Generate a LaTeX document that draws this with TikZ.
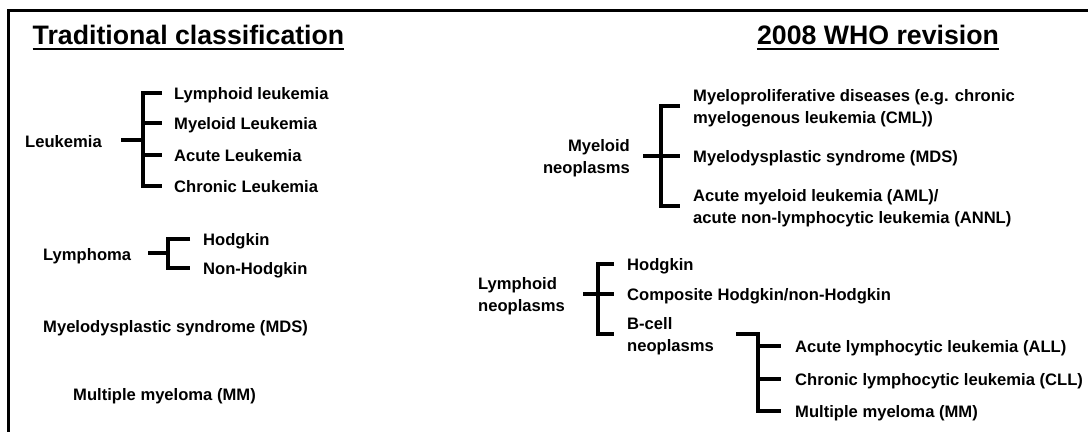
\documentclass[tikz,border=0pt]{standalone}
\usepackage{fontspec}
\setmainfont{Liberation Sans}
\begin{document}
\begin{tikzpicture}[x=1pt,y=-1pt,
  txt/.style={inner sep=0pt, anchor=base west, font=\fontsize{16.6}{22}\selectfont\bfseries},
  ttl/.style={inner sep=0pt, anchor=base, font=\fontsize{26.7}{32}\selectfont\bfseries},
  br/.style={line width=4pt, line join=miter, line cap=butt},
  uline/.style={line width=2.6pt},
  frame/.style={line width=3pt, line join=miter}
]
\useasboundingbox (0,0) rectangle (1088,432);
\draw[frame] (1088,10) -- (8,10) -- (8,432);

% ---------- Traditional classification ----------
\node[ttl] (t1) at (188.5,44) {Traditional classification};
\draw[uline] ([yshift=-5pt]t1.base west) -- ([yshift=-5pt]t1.base east);

\node[txt] (leuk) at (25,147) {Leukemia};
\node[txt] (l1) at (174,99) {Lymphoid leukemia};
\node[txt] (l2) at (174,129) {Myeloid Leukemia};
\node[txt] (l3) at (174,161) {Acute Leukemia};
\node[txt] (l4) at (174,192) {Chronic Leukemia};
\draw[br] (121,140) -- (143,140);
\draw[br] (162,93) -- (143,93) -- (143,186) -- (162,186);
\draw[br] (143,123) -- (162,123);
\draw[br] (143,155) -- (162,155);

\node[txt] (lymph) at (43,260) {Lymphoma};
\node[txt] (h1) at (203,245) {Hodgkin};
\node[txt] (h2) at (203,274) {Non-Hodgkin};
\draw[br] (148,253) -- (168,253);
\draw[br] (190,239) -- (168,239) -- (168,268) -- (190,268);

\node[txt] (mdsl) at (43,332) {Myelodysplastic syndrome (MDS)};
\node[txt] (mml) at (73,400) {Multiple myeloma (MM)};

% ---------- 2008 WHO revision ----------
\node[ttl] (t2) at (878,44) {2008 WHO revision};
\draw[uline] ([yshift=-5pt]t2.base west) -- ([yshift=-5pt]t2.base east);

\node[txt, anchor=base east] (myel) at (630,151) {\begin{tabular}[t]{@{}r@{}}Myeloid\\neoplasms\end{tabular}};
\node[txt] (m1) at (693,101) {\begin{tabular}[t]{@{}l@{}}Myeloproliferative diseases (e.g. chronic\\myelogenous leukemia (CML))\end{tabular}};
\node[txt] (m2) at (693,162) {Myelodysplastic syndrome (MDS)};
\node[txt] (m3) at (693,201) {\begin{tabular}[t]{@{}l@{}}Acute myeloid leukemia (AML)/\\acute non-lymphocytic leukemia (ANNL)\end{tabular}};
\draw[br] (643,156) -- (661,156);
\draw[br] (680,106) -- (661,106) -- (661,206) -- (680,206);
\draw[br] (661,156) -- (680,156);

\node[txt] (lyn) at (478,289) {\begin{tabular}[t]{@{}l@{}}Lymphoid\\neoplasms\end{tabular}};
\node[txt] (n1) at (627,270) {Hodgkin};
\node[txt] (n2) at (627,300) {Composite Hodgkin/non-Hodgkin};
\node[txt] (n3) at (627,329) {\begin{tabular}[t]{@{}l@{}}B-cell\\neoplasms\end{tabular}};
\draw[br] (583,294) -- (598,294);
\draw[br] (614,264) -- (598,264) -- (598,334) -- (614,334);
\draw[br] (598,294) -- (614,294);

\node[txt] (b1) at (795,352) {Acute lymphocytic leukemia (ALL)};
\node[txt] (b2) at (795,385) {Chronic lymphocytic leukemia (CLL)};
\node[txt] (b3) at (795,417) {Multiple myeloma (MM)};
\draw[br] (736,334) -- (758,334) -- (758,411) -- (781,411);
\draw[br] (758,346) -- (781,346);
\draw[br] (758,379) -- (781,379);
\end{tikzpicture}
\end{document}
